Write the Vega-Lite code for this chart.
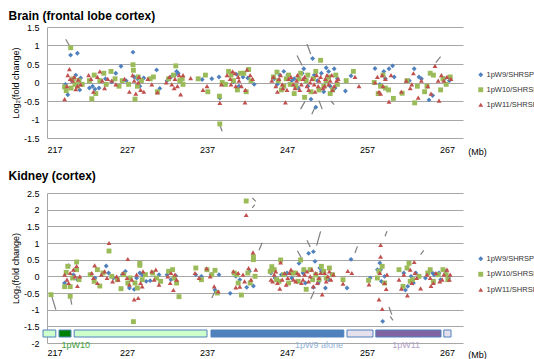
{
"$schema": "https://vega.github.io/schema/vega-lite/v6.json",
"padding": {"left": 8, "top": 10, "right": 0, "bottom": 0},
"background": "#ffffff",
"spacing": 14,
"datasets": {
"brain": [
{"s":"9","x":219.3,"y":-0.05},{"s":"9","x":219.6,"y":-0.33},{"s":"9","x":219.95,"y":0.74},{"s":"9","x":220.1,"y":0.05},{"s":"9","x":220.8,"y":0.79},{"s":"9","x":220.6,"y":0.2},{"s":"9","x":221.1,"y":-0.2},{"s":"9","x":221.2,"y":0.12},{"s":"9","x":222.3,"y":-0.15},{"s":"9","x":222.7,"y":-0.1},{"s":"9","x":223.0,"y":-0.18},{"s":"9","x":223.5,"y":-0.15},{"s":"9","x":224.3,"y":0.1},{"s":"9","x":225.1,"y":0.02},{"s":"9","x":225.6,"y":0.25},{"s":"9","x":226.25,"y":0.44},{"s":"9","x":226.9,"y":0.05},{"s":"9","x":227.75,"y":0.82},{"s":"9","x":227.9,"y":0.15},{"s":"9","x":228.3,"y":0.1},{"s":"9","x":228.6,"y":-0.1},{"s":"9","x":229.1,"y":0.12},{"s":"9","x":230.7,"y":0.34},{"s":"9","x":231.1,"y":-0.16},{"s":"9","x":232.0,"y":0.05},{"s":"9","x":232.5,"y":0.15},{"s":"9","x":233.0,"y":0.2},{"s":"9","x":233.2,"y":0.3},{"s":"9","x":233.4,"y":0.25},{"s":"9","x":233.7,"y":0.05},{"s":"9","x":236.4,"y":0.08},{"s":"9","x":237.6,"y":0.1},{"s":"9","x":238.5,"y":0.15},{"s":"9","x":238.6,"y":-0.42},{"s":"9","x":239.0,"y":-0.05},{"s":"9","x":240.3,"y":0.02},{"s":"9","x":240.7,"y":0.22},{"s":"9","x":241.0,"y":-0.1},{"s":"9","x":241.5,"y":0.15},{"s":"9","x":242.1,"y":0.12},{"s":"9","x":242.9,"y":-0.05},{"s":"9","x":245.4,"y":0.1},{"s":"9","x":245.8,"y":-0.05},{"s":"9","x":246.1,"y":0.2},{"s":"9","x":246.6,"y":0.3},{"s":"9","x":247.1,"y":0.2},{"s":"9","x":247.6,"y":0.05},{"s":"9","x":247.9,"y":0.1},{"s":"9","x":248.4,"y":-0.15},{"s":"9","x":248.9,"y":0.25},{"s":"9","x":249.1,"y":0.37},{"s":"9","x":249.6,"y":-0.1},{"s":"9","x":250.2,"y":0.65},{"s":"9","x":250.0,"y":-0.45},{"s":"9","x":250.4,"y":0.2},{"s":"9","x":250.6,"y":-0.67},{"s":"9","x":250.8,"y":0.05},{"s":"9","x":251.3,"y":0.25},{"s":"9","x":251.6,"y":-0.25},{"s":"9","x":251.9,"y":0.4},{"s":"9","x":252.2,"y":0.3},{"s":"9","x":252.4,"y":-0.1},{"s":"9","x":252.9,"y":0.37},{"s":"9","x":253.0,"y":-0.15},{"s":"9","x":253.3,"y":0.1},{"s":"9","x":254.3,"y":-0.23},{"s":"9","x":255.0,"y":0.18},{"s":"9","x":258.0,"y":0.38},{"s":"9","x":258.6,"y":-0.05},{"s":"9","x":259.1,"y":0.3},{"s":"9","x":259.3,"y":0.1},{"s":"9","x":259.75,"y":0.37},{"s":"9","x":260.2,"y":0.45},{"s":"9","x":259.6,"y":-0.2},{"s":"9","x":260.4,"y":0.15},{"s":"9","x":262.3,"y":0.05},{"s":"9","x":262.9,"y":0.37},{"s":"9","x":263.5,"y":0.15},{"s":"9","x":263.8,"y":0.1},{"s":"9","x":264.75,"y":-0.47},{"s":"9","x":265.2,"y":-0.35},{"s":"9","x":266.7,"y":0.1},{"s":"9","x":267.3,"y":0.05},
{"s":"10","x":219.2,"y":-0.12},{"s":"10","x":219.4,"y":-0.22},{"s":"10","x":219.96,"y":0.94},{"s":"10","x":220.0,"y":-0.15},{"s":"10","x":220.3,"y":0.1},{"s":"10","x":220.5,"y":-0.05},{"s":"10","x":220.8,"y":-0.1},{"s":"10","x":221.0,"y":0.05},{"s":"10","x":221.4,"y":-0.05},{"s":"10","x":222.3,"y":0.05},{"s":"10","x":222.6,"y":-0.44},{"s":"10","x":223.1,"y":-0.3},{"s":"10","x":222.9,"y":0.2},{"s":"10","x":223.6,"y":0.05},{"s":"10","x":224.1,"y":0.25},{"s":"10","x":224.4,"y":-0.05},{"s":"10","x":225.0,"y":0.3},{"s":"10","x":225.5,"y":0.1},{"s":"10","x":226.0,"y":-0.1},{"s":"10","x":226.4,"y":0.05},{"s":"10","x":227.2,"y":-0.05},{"s":"10","x":227.75,"y":0.48},{"s":"10","x":227.8,"y":0.33},{"s":"10","x":228.0,"y":-0.45},{"s":"10","x":228.3,"y":-0.1},{"s":"10","x":228.4,"y":0.15},{"s":"10","x":228.8,"y":0.05},{"s":"10","x":229.9,"y":0.1},{"s":"10","x":230.3,"y":0.15},{"s":"10","x":230.8,"y":-0.25},{"s":"10","x":232.2,"y":0.1},{"s":"10","x":232.8,"y":0.2},{"s":"10","x":233.1,"y":0.45},{"s":"10","x":233.6,"y":0.05},{"s":"10","x":233.9,"y":0.1},{"s":"10","x":234.0,"y":-0.05},{"s":"10","x":235.9,"y":0.1},{"s":"10","x":236.8,"y":0.2},{"s":"10","x":237.1,"y":-0.25},{"s":"10","x":238.6,"y":-1.12},{"s":"10","x":238.55,"y":-0.37},{"s":"10","x":238.9,"y":0.0},{"s":"10","x":239.3,"y":-0.05},{"s":"10","x":239.7,"y":0.3},{"s":"10","x":240.0,"y":0.2},{"s":"10","x":240.3,"y":0.05},{"s":"10","x":240.8,"y":-0.2},{"s":"10","x":241.2,"y":0.25},{"s":"10","x":241.6,"y":0.25},{"s":"10","x":241.9,"y":-0.25},{"s":"10","x":242.2,"y":0.35},{"s":"10","x":242.5,"y":0.05},{"s":"10","x":245.3,"y":0.15},{"s":"10","x":245.75,"y":0.28},{"s":"10","x":245.9,"y":0.05},{"s":"10","x":246.3,"y":-0.2},{"s":"10","x":246.6,"y":-0.1},{"s":"10","x":246.9,"y":0.1},{"s":"10","x":247.2,"y":0.2},{"s":"10","x":247.4,"y":-0.05},{"s":"10","x":247.9,"y":-0.3},{"s":"10","x":248.1,"y":-0.1},{"s":"10","x":248.5,"y":0.1},{"s":"10","x":248.7,"y":0.25},{"s":"10","x":249.2,"y":-0.4},{"s":"10","x":249.4,"y":0.05},{"s":"10","x":249.6,"y":0.2},{"s":"10","x":250.0,"y":-0.25},{"s":"10","x":250.3,"y":0.1},{"s":"10","x":250.6,"y":0.3},{"s":"10","x":251.0,"y":-0.2},{"s":"10","x":251.2,"y":0.6},{"s":"10","x":251.6,"y":-0.1},{"s":"10","x":251.9,"y":0.05},{"s":"10","x":252.2,"y":0.15},{"s":"10","x":252.4,"y":-0.3},{"s":"10","x":252.7,"y":-0.2},{"s":"10","x":253.1,"y":0.2},{"s":"10","x":253.3,"y":-0.05},{"s":"10","x":254.4,"y":0.05},{"s":"10","x":255.3,"y":0.3},{"s":"10","x":257.9,"y":0.0},{"s":"10","x":258.4,"y":-0.3},{"s":"10","x":258.7,"y":-0.1},{"s":"10","x":259.0,"y":0.2},{"s":"10","x":259.3,"y":-0.15},{"s":"10","x":259.7,"y":-0.2},{"s":"10","x":260.3,"y":-0.43},{"s":"10","x":261.4,"y":-0.29},{"s":"10","x":262.0,"y":0.05},{"s":"10","x":262.96,"y":-0.55},{"s":"10","x":263.3,"y":-0.1},{"s":"10","x":264.2,"y":-0.25},{"s":"10","x":264.5,"y":-0.1},{"s":"10","x":264.9,"y":0.25},{"s":"10","x":265.3,"y":0.2},{"s":"10","x":266.2,"y":-0.2},{"s":"10","x":266.5,"y":0.1},{"s":"10","x":266.9,"y":-0.05},{"s":"10","x":267.4,"y":0.15},
{"s":"11","x":219.2,"y":-0.45},{"s":"11","x":219.5,"y":-0.1},{"s":"11","x":219.6,"y":0.2},{"s":"11","x":219.8,"y":0.36},{"s":"11","x":219.9,"y":0.1},{"s":"11","x":220.2,"y":0.05},{"s":"11","x":220.4,"y":0.15},{"s":"11","x":220.6,"y":-0.18},{"s":"11","x":220.8,"y":-0.1},{"s":"11","x":220.9,"y":0.08},{"s":"11","x":221.2,"y":-0.05},{"s":"11","x":222.2,"y":0.2},{"s":"11","x":222.5,"y":0.1},{"s":"11","x":222.8,"y":-0.25},{"s":"11","x":223.3,"y":0.15},{"s":"11","x":223.6,"y":0.3},{"s":"11","x":223.9,"y":0.05},{"s":"11","x":224.2,"y":-0.15},{"s":"11","x":224.6,"y":0.1},{"s":"11","x":225.1,"y":0.05},{"s":"11","x":225.6,"y":-0.05},{"s":"11","x":226.7,"y":0.1},{"s":"11","x":227.3,"y":-0.25},{"s":"11","x":227.7,"y":0.2},{"s":"11","x":227.9,"y":0.05},{"s":"11","x":228.1,"y":-0.3},{"s":"11","x":228.4,"y":0.0},{"s":"11","x":228.5,"y":0.15},{"s":"11","x":228.7,"y":-0.2},{"s":"11","x":229.1,"y":-0.25},{"s":"11","x":229.6,"y":0.1},{"s":"11","x":230.1,"y":-0.05},{"s":"11","x":230.8,"y":-0.27},{"s":"11","x":231.9,"y":0.0},{"s":"11","x":232.3,"y":0.15},{"s":"11","x":232.6,"y":-0.05},{"s":"11","x":232.9,"y":-0.15},{"s":"11","x":233.0,"y":0.1},{"s":"11","x":233.3,"y":-0.1},{"s":"11","x":233.5,"y":0.2},{"s":"11","x":233.7,"y":-0.32},{"s":"11","x":234.0,"y":0.2},{"s":"11","x":234.96,"y":0.12},{"s":"11","x":236.5,"y":-0.2},{"s":"11","x":237.0,"y":-0.1},{"s":"11","x":238.6,"y":-0.55},{"s":"11","x":238.8,"y":-0.05},{"s":"11","x":239.5,"y":0.2},{"s":"11","x":239.9,"y":0.1},{"s":"11","x":240.0,"y":-0.05},{"s":"11","x":240.2,"y":0.3},{"s":"11","x":240.5,"y":0.25},{"s":"11","x":240.6,"y":-0.1},{"s":"11","x":240.9,"y":0.15},{"s":"11","x":241.0,"y":0.05},{"s":"11","x":241.3,"y":-0.1},{"s":"11","x":241.75,"y":-0.54},{"s":"11","x":241.8,"y":-0.2},{"s":"11","x":242.0,"y":0.35},{"s":"11","x":242.4,"y":0.2},{"s":"11","x":242.7,"y":0.1},{"s":"11","x":245.1,"y":0.05},{"s":"11","x":245.3,"y":0.15},{"s":"11","x":245.6,"y":-0.1},{"s":"11","x":245.8,"y":-0.25},{"s":"11","x":246.0,"y":0.1},{"s":"11","x":246.2,"y":0.2},{"s":"11","x":246.4,"y":-0.05},{"s":"11","x":246.5,"y":-0.15},{"s":"11","x":246.8,"y":-0.54},{"s":"11","x":247.0,"y":-0.2},{"s":"11","x":247.2,"y":0.1},{"s":"11","x":247.5,"y":0.15},{"s":"11","x":247.8,"y":-0.05},{"s":"11","x":248.0,"y":-0.15},{"s":"11","x":248.2,"y":0.05},{"s":"11","x":248.3,"y":0.2},{"s":"11","x":248.6,"y":-0.2},{"s":"11","x":248.8,"y":-0.05},{"s":"11","x":249.0,"y":0.1},{"s":"11","x":249.2,"y":0.15},{"s":"11","x":249.5,"y":-0.1},{"s":"11","x":249.7,"y":-0.2},{"s":"11","x":249.9,"y":0.0},{"s":"11","x":250.1,"y":0.1},{"s":"11","x":250.4,"y":-0.05},{"s":"11","x":250.5,"y":-0.25},{"s":"11","x":250.7,"y":0.2},{"s":"11","x":250.9,"y":-0.1},{"s":"11","x":251.0,"y":0.05},{"s":"11","x":251.2,"y":0.15},{"s":"11","x":251.5,"y":-0.15},{"s":"11","x":251.7,"y":-0.1},{"s":"11","x":251.8,"y":0.1},{"s":"11","x":252.0,"y":0.2},{"s":"11","x":252.2,"y":-0.05},{"s":"11","x":252.4,"y":0.05},{"s":"11","x":252.6,"y":0.2},{"s":"11","x":252.7,"y":-0.2},{"s":"11","x":252.9,"y":-0.1},{"s":"11","x":253.2,"y":0.05},{"s":"11","x":253.4,"y":0.1},{"s":"11","x":255.5,"y":0.15},{"s":"11","x":256.0,"y":-0.1},{"s":"11","x":258.0,"y":0.0},{"s":"11","x":258.3,"y":0.15},{"s":"11","x":258.5,"y":-0.25},{"s":"11","x":258.7,"y":-0.3},{"s":"11","x":258.9,"y":0.2},{"s":"11","x":259.0,"y":-0.1},{"s":"11","x":259.3,"y":0.1},{"s":"11","x":259.75,"y":-0.52},{"s":"11","x":260.0,"y":0.2},{"s":"11","x":261.3,"y":-0.25},{"s":"11","x":261.9,"y":0.05},{"s":"11","x":262.4,"y":-0.15},{"s":"11","x":262.6,"y":-0.05},{"s":"11","x":262.8,"y":0.25},{"s":"11","x":263.4,"y":-0.41},{"s":"11","x":263.8,"y":0.05},{"s":"11","x":264.6,"y":-0.1},{"s":"11","x":265.0,"y":-0.3},{"s":"11","x":265.5,"y":0.45},{"s":"11","x":265.9,"y":0.05},{"s":"11","x":266.0,"y":-0.49},{"s":"11","x":266.3,"y":0.2},{"s":"11","x":266.6,"y":0.05},{"s":"11","x":267.0,"y":0.15},{"s":"11","x":267.5,"y":0.1}
],
"kidney": [
{"s":"9","x":219.2,"y":-0.2},{"s":"9","x":219.7,"y":0.32},{"s":"9","x":220.3,"y":0.05},{"s":"9","x":220.8,"y":-0.1},{"s":"9","x":222.5,"y":0.05},{"s":"9","x":223.0,"y":-0.05},{"s":"9","x":224.4,"y":0.31},{"s":"9","x":224.7,"y":0.1},{"s":"9","x":225.3,"y":-0.05},{"s":"9","x":226.4,"y":0.05},{"s":"9","x":226.8,"y":0.15},{"s":"9","x":227.3,"y":-0.35},{"s":"9","x":227.9,"y":-0.39},{"s":"9","x":228.2,"y":-0.05},{"s":"9","x":228.6,"y":0.1},{"s":"9","x":228.9,"y":0.05},{"s":"9","x":229.4,"y":-0.15},{"s":"9","x":229.9,"y":-0.13},{"s":"9","x":231.0,"y":0.05},{"s":"9","x":232.0,"y":0.05},{"s":"9","x":232.5,"y":-0.1},{"s":"9","x":233.1,"y":0.02},{"s":"9","x":235.6,"y":0.05},{"s":"9","x":236.3,"y":0.0},{"s":"9","x":237.5,"y":0.05},{"s":"9","x":238.0,"y":-0.41},{"s":"9","x":238.5,"y":0.05},{"s":"9","x":239.9,"y":-0.51},{"s":"9","x":240.6,"y":0.0},{"s":"9","x":241.1,"y":-0.1},{"s":"9","x":241.96,"y":-0.33},{"s":"9","x":242.3,"y":0.15},{"s":"9","x":242.8,"y":-0.29},{"s":"9","x":245.0,"y":0.1},{"s":"9","x":245.5,"y":-0.05},{"s":"9","x":246.3,"y":0.05},{"s":"9","x":246.8,"y":0.05},{"s":"9","x":247.0,"y":0.1},{"s":"9","x":247.6,"y":-0.05},{"s":"9","x":248.5,"y":0.39},{"s":"9","x":249.0,"y":0.1},{"s":"9","x":249.3,"y":-0.2},{"s":"9","x":249.7,"y":0.69},{"s":"9","x":250.3,"y":0.74},{"s":"9","x":250.5,"y":0.45},{"s":"9","x":250.3,"y":-0.33},{"s":"9","x":250.9,"y":-0.2},{"s":"9","x":251.1,"y":0.25},{"s":"9","x":251.3,"y":0.15},{"s":"9","x":251.8,"y":-0.35},{"s":"9","x":252.2,"y":-0.1},{"s":"9","x":252.6,"y":0.05},{"s":"9","x":254.5,"y":-0.35},{"s":"9","x":255.0,"y":0.51},{"s":"9","x":257.4,"y":-0.05},{"s":"9","x":258.3,"y":0.2},{"s":"9","x":258.6,"y":0.4},{"s":"9","x":258.7,"y":0.2},{"s":"9","x":258.8,"y":-0.15},{"s":"9","x":258.96,"y":-1.35},{"s":"9","x":259.2,"y":0.0},{"s":"9","x":261.6,"y":0.1},{"s":"9","x":261.8,"y":-0.41},{"s":"9","x":262.1,"y":-0.3},{"s":"9","x":262.5,"y":0.0},{"s":"9","x":262.8,"y":-0.2},{"s":"9","x":263.1,"y":0.1},{"s":"9","x":264.3,"y":-0.05},{"s":"9","x":265.2,"y":0.1},{"s":"9","x":265.4,"y":0.05},{"s":"9","x":266.0,"y":0.1},{"s":"9","x":266.2,"y":-0.1},{"s":"9","x":266.8,"y":0.15},{"s":"9","x":267.2,"y":-0.05},
{"s":"10","x":217.5,"y":-0.55},{"s":"10","x":219.2,"y":-0.31},{"s":"10","x":219.4,"y":0.12},{"s":"10","x":219.6,"y":0.3},{"s":"10","x":219.9,"y":-0.31},{"s":"10","x":219.9,"y":-0.6},{"s":"10","x":220.2,"y":-0.05},{"s":"10","x":220.7,"y":0.43},{"s":"10","x":220.7,"y":0.2},{"s":"10","x":221.0,"y":-0.1},{"s":"10","x":222.4,"y":0.05},{"s":"10","x":222.9,"y":-0.15},{"s":"10","x":223.3,"y":0.2},{"s":"10","x":223.6,"y":-0.29},{"s":"10","x":224.0,"y":0.1},{"s":"10","x":224.75,"y":0.76},{"s":"10","x":225.1,"y":0.0},{"s":"10","x":225.8,"y":-0.1},{"s":"10","x":226.25,"y":-0.37},{"s":"10","x":226.6,"y":0.05},{"s":"10","x":227.1,"y":-0.2},{"s":"10","x":227.4,"y":-0.05},{"s":"10","x":227.8,"y":-1.36},{"s":"10","x":228.0,"y":-0.2},{"s":"10","x":228.3,"y":-0.35},{"s":"10","x":228.6,"y":0.39},{"s":"10","x":228.6,"y":0.33},{"s":"10","x":228.9,"y":-0.1},{"s":"10","x":229.3,"y":0.05},{"s":"10","x":230.2,"y":0.1},{"s":"10","x":230.7,"y":-0.05},{"s":"10","x":231.2,"y":-0.15},{"s":"10","x":232.2,"y":0.15},{"s":"10","x":232.7,"y":0.2},{"s":"10","x":232.9,"y":-0.05},{"s":"10","x":233.2,"y":-0.2},{"s":"10","x":233.5,"y":-0.61},{"s":"10","x":235.6,"y":0.25},{"s":"10","x":236.3,"y":-0.1},{"s":"10","x":237.0,"y":0.2},{"s":"10","x":237.6,"y":0.05},{"s":"10","x":238.0,"y":0.18},{"s":"10","x":238.3,"y":-0.5},{"s":"10","x":240.4,"y":0.1},{"s":"10","x":240.7,"y":0.05},{"s":"10","x":240.9,"y":-0.2},{"s":"10","x":241.3,"y":-0.56},{"s":"10","x":241.9,"y":2.26},{"s":"10","x":242.1,"y":0.1},{"s":"10","x":242.4,"y":-0.2},{"s":"10","x":242.8,"y":0.59},{"s":"10","x":242.8,"y":0.5},{"s":"10","x":243.0,"y":0.0},{"s":"10","x":244.9,"y":0.15},{"s":"10","x":245.1,"y":0.29},{"s":"10","x":245.4,"y":0.2},{"s":"10","x":245.7,"y":-0.1},{"s":"10","x":246.0,"y":-0.15},{"s":"10","x":246.2,"y":0.49},{"s":"10","x":246.6,"y":0.05},{"s":"10","x":247.2,"y":-0.2},{"s":"10","x":247.6,"y":0.1},{"s":"10","x":248.0,"y":0.1},{"s":"10","x":248.4,"y":-0.15},{"s":"10","x":248.7,"y":0.49},{"s":"10","x":249.1,"y":0.2},{"s":"10","x":249.4,"y":-0.39},{"s":"10","x":249.9,"y":0.2},{"s":"10","x":250.2,"y":-0.1},{"s":"10","x":250.6,"y":0.05},{"s":"10","x":251.0,"y":-0.1},{"s":"10","x":251.3,"y":0.3},{"s":"10","x":251.6,"y":0.15},{"s":"10","x":251.9,"y":-0.05},{"s":"10","x":252.3,"y":0.25},{"s":"10","x":252.7,"y":0.05},{"s":"10","x":254.0,"y":-0.1},{"s":"10","x":257.2,"y":-0.12},{"s":"10","x":258.3,"y":-0.05},{"s":"10","x":258.5,"y":0.15},{"s":"10","x":258.9,"y":0.3},{"s":"10","x":259.2,"y":-0.2},{"s":"10","x":261.0,"y":0.2},{"s":"10","x":261.5,"y":-0.3},{"s":"10","x":262.0,"y":0.25},{"s":"10","x":262.25,"y":0.39},{"s":"10","x":262.4,"y":-0.15},{"s":"10","x":262.7,"y":-0.1},{"s":"10","x":263.5,"y":0.0},{"s":"10","x":264.6,"y":0.1},{"s":"10","x":264.9,"y":0.2},{"s":"10","x":265.3,"y":-0.15},{"s":"10","x":265.9,"y":0.05},{"s":"10","x":266.5,"y":0.2},{"s":"10","x":266.9,"y":0.05},{"s":"10","x":267.1,"y":-0.1},
{"s":"11","x":219.2,"y":0.05},{"s":"11","x":219.5,"y":-0.1},{"s":"11","x":219.7,"y":-0.2},{"s":"11","x":219.9,"y":0.1},{"s":"11","x":220.3,"y":0.2},{"s":"11","x":220.5,"y":0.0},{"s":"11","x":220.7,"y":0.31},{"s":"11","x":220.8,"y":-0.29},{"s":"11","x":221.1,"y":0.0},{"s":"11","x":222.6,"y":0.1},{"s":"11","x":222.8,"y":-0.05},{"s":"11","x":222.96,"y":0.33},{"s":"11","x":223.3,"y":-0.2},{"s":"11","x":223.8,"y":0.05},{"s":"11","x":224.2,"y":0.15},{"s":"11","x":224.75,"y":1.0},{"s":"11","x":224.5,"y":-0.05},{"s":"11","x":225.2,"y":-0.15},{"s":"11","x":225.7,"y":0.0},{"s":"11","x":225.9,"y":-0.1},{"s":"11","x":226.5,"y":0.1},{"s":"11","x":227.0,"y":-0.05},{"s":"11","x":227.1,"y":0.52},{"s":"11","x":227.3,"y":-0.25},{"s":"11","x":227.6,"y":-0.1},{"s":"11","x":227.9,"y":-0.69},{"s":"11","x":228.4,"y":-0.65},{"s":"11","x":228.2,"y":0.05},{"s":"11","x":228.7,"y":-0.2},{"s":"11","x":228.9,"y":-0.3},{"s":"11","x":229.0,"y":0.15},{"s":"11","x":230.1,"y":0.15},{"s":"11","x":230.4,"y":-0.1},{"s":"11","x":230.6,"y":0.2},{"s":"11","x":231.0,"y":-0.25},{"s":"11","x":232.1,"y":0.0},{"s":"11","x":232.4,"y":-0.2},{"s":"11","x":232.5,"y":0.1},{"s":"11","x":232.8,"y":-0.41},{"s":"11","x":233.0,"y":0.05},{"s":"11","x":233.2,"y":-0.1},{"s":"11","x":235.5,"y":0.1},{"s":"11","x":236.0,"y":-0.05},{"s":"11","x":236.96,"y":0.24},{"s":"11","x":237.4,"y":0.0},{"s":"11","x":237.9,"y":-0.3},{"s":"11","x":238.4,"y":-0.45},{"s":"11","x":240.3,"y":0.15},{"s":"11","x":240.6,"y":-0.33},{"s":"11","x":240.9,"y":0.1},{"s":"11","x":241.1,"y":-0.31},{"s":"11","x":241.5,"y":0.05},{"s":"11","x":241.7,"y":-0.15},{"s":"11","x":241.9,"y":1.84},{"s":"11","x":242.2,"y":0.25},{"s":"11","x":242.5,"y":-0.1},{"s":"11","x":242.75,"y":0.72},{"s":"11","x":243.1,"y":0.2},{"s":"11","x":245.0,"y":-0.1},{"s":"11","x":245.2,"y":-0.15},{"s":"11","x":245.4,"y":0.05},{"s":"11","x":245.6,"y":0.15},{"s":"11","x":245.8,"y":-0.2},{"s":"11","x":246.1,"y":-0.37},{"s":"11","x":246.2,"y":0.42},{"s":"11","x":246.4,"y":-0.1},{"s":"11","x":246.7,"y":0.1},{"s":"11","x":246.9,"y":-0.25},{"s":"11","x":247.1,"y":-0.05},{"s":"11","x":247.3,"y":0.1},{"s":"11","x":247.5,"y":0.2},{"s":"11","x":247.8,"y":-0.1},{"s":"11","x":248.1,"y":-0.15},{"s":"11","x":248.3,"y":0.1},{"s":"11","x":248.5,"y":0.05},{"s":"11","x":248.8,"y":-0.2},{"s":"11","x":249.0,"y":-0.1},{"s":"11","x":249.2,"y":0.05},{"s":"11","x":249.5,"y":0.15},{"s":"11","x":249.7,"y":-0.15},{"s":"11","x":249.9,"y":0.0},{"s":"11","x":250.1,"y":0.2},{"s":"11","x":250.3,"y":-0.3},{"s":"11","x":250.6,"y":0.1},{"s":"11","x":250.8,"y":-0.2},{"s":"11","x":251.0,"y":-0.05},{"s":"11","x":251.2,"y":0.1},{"s":"11","x":251.4,"y":-0.54},{"s":"11","x":251.7,"y":0.1},{"s":"11","x":251.9,"y":-0.15},{"s":"11","x":252.1,"y":0.0},{"s":"11","x":252.3,"y":0.15},{"s":"11","x":252.5,"y":-0.1},{"s":"11","x":252.8,"y":0.05},{"s":"11","x":254.0,"y":-0.22},{"s":"11","x":254.6,"y":0.16},{"s":"11","x":255.1,"y":0.1},{"s":"11","x":257.25,"y":-0.24},{"s":"11","x":258.5,"y":-0.69},{"s":"11","x":258.6,"y":0.1},{"s":"11","x":258.7,"y":0.94},{"s":"11","x":258.7,"y":0.59},{"s":"11","x":258.9,"y":-0.98},{"s":"11","x":259.2,"y":-0.2},{"s":"11","x":259.4,"y":-0.38},{"s":"11","x":259.5,"y":0.05},{"s":"11","x":261.0,"y":-0.1},{"s":"11","x":261.3,"y":-0.37},{"s":"11","x":261.6,"y":0.05},{"s":"11","x":262.05,"y":-0.57},{"s":"11","x":262.4,"y":0.2},{"s":"11","x":262.6,"y":-0.2},{"s":"11","x":262.9,"y":0.43},{"s":"11","x":263.0,"y":0.1},{"s":"11","x":263.2,"y":-0.05},{"s":"11","x":263.7,"y":-0.36},{"s":"11","x":264.5,"y":0.05},{"s":"11","x":264.9,"y":-0.05},{"s":"11","x":265.0,"y":-0.29},{"s":"11","x":265.3,"y":-0.2},{"s":"11","x":265.6,"y":0.1},{"s":"11","x":266.1,"y":-0.15},{"s":"11","x":266.4,"y":-0.1},{"s":"11","x":266.6,"y":0.05},{"s":"11","x":267.0,"y":0.2},{"s":"11","x":267.3,"y":-0.1},{"s":"11","x":267.4,"y":0.05}
],
"arrB": [
{"x":219.34,"y":1.17,"x2":219.8,"y2":1.0},{"x":238.9,"y":-1.32,"x2":238.65,"y2":-1.18},{"x":249.5,"y":1.04,"x2":249.96,"y2":0.77},{"x":248.25,"y":0.73,"x2":248.9,"y2":0.46},{"x":248.7,"y":-0.72,"x2":249.25,"y2":-0.51},{"x":250.1,"y":-0.86,"x2":250.6,"y2":-0.62},{"x":251.4,"y":-0.72,"x2":251.0,"y2":-0.49},{"x":252.5,"y":-0.5,"x2":252.9,"y2":-0.6},{"x":266.2,"y":0.7,"x2":265.6,"y2":0.54}
],
"arrK": [
{"x":218.1,"y":-1.0,"x2":217.6,"y2":-0.6},{"x":220.1,"y":-0.85,"x2":219.95,"y2":-0.67},{"x":237.6,"y":-0.65,"x2":238.1,"y2":-0.4},{"x":242.66,"y":2.35,"x2":243.1,"y2":2.25},{"x":242.96,"y":2.15,"x2":242.66,"y2":2.05},{"x":243.9,"y":1.01,"x2":243.5,"y2":0.78},{"x":248.3,"y":0.77,"x2":248.8,"y2":0.55},{"x":249.5,"y":1.08,"x2":249.9,"y2":0.88},{"x":251.2,"y":1.35,"x2":250.7,"y2":0.92},{"x":249.96,"y":-0.68,"x2":250.4,"y2":-0.45},{"x":255.8,"y":0.9,"x2":255.5,"y2":0.7},{"x":259.5,"y":1.35,"x2":259.25,"y2":1.2},{"x":264.1,"y":0.78,"x2":263.7,"y2":0.65},{"x":259.75,"y":-0.92,"x2":260.1,"y2":-1.15},{"x":259.9,"y":-1.2,"x2":260.25,"y2":-1.32}
],
"bars": [
{"a":216.5,"b":218.1,"k":"lg"},{"a":218.5,"b":220.0,"k":"dg"},{"a":220.4,"b":237.0,"k":"lg"},{"a":237.5,"b":254.1,"k":"bl"},{"a":254.5,"b":257.75,"k":"lv"},{"a":258.1,"b":266.25,"k":"pu"},{"a":266.6,"b":267.5,"k":"lv"}
],
"labs": [
{"t":"1pW10","x":220.6},{"t":"1pW9 alone","x":251.0},{"t":"1pW11","x":261.9}
]
},
"vconcat": [
{
"width": 416, "height": 111,
"title": {"text": "Brain (frontal lobe cortex)", "anchor": "start", "frame": "bounds", "dx": -3, "fontSize": 12, "fontWeight": "bold", "color": "#000000", "offset": 0},
"layer": [
{"mark": {"type": "rule", "color": "#000000", "strokeWidth": 1.2}, "encoding": {"y": {"datum": 0, "type": "quantitative"}}},
{"data": {"name": "arrB"}, "mark": {"type": "rule", "color": "#7F7F7F", "strokeWidth": 1.2}, "encoding": {"x": {"field": "x", "type": "quantitative"}, "x2": {"field": "x2"}, "y": {"field": "y", "type": "quantitative"}, "y2": {"field": "y2"}}},
{"data": {"name": "brain"}, "mark": {"type": "point", "filled": true, "opacity": 1, "size": 24},
"encoding": {
"x": {"field": "x", "type": "quantitative", "scale": {"domain": [217, 269], "nice": false, "zero": false}, "axis": {"values": [217, 227, 237, 247, 257, 267], "title": "(Mb)", "titleX": 430, "titleY": 13}},
"y": {"field": "y", "type": "quantitative", "scale": {"domain": [-1.5, 1.5], "nice": false, "zero": false}, "axis": {"tickCount": 7, "format": "~g", "title": "Log₂(fold change)"}},
"color": {"field": "s", "type": "nominal", "scale": {"domain": ["9", "10", "11"], "range": ["#4F81BD", "#9BBB59", "#C0504D"]}, "legend": {"orient": "none", "legendX": 430, "legendY": 44, "rowPadding": 6, "labelExpr": "'1pW' + datum.label + '/SHRSP'"}},
"shape": {"field": "s", "type": "nominal", "scale": {"domain": ["9", "10", "11"], "range": ["diamond", "square", "triangle-up"]}, "legend": {"orient": "none", "legendX": 430, "legendY": 44, "rowPadding": 6, "labelExpr": "'1pW' + datum.label + '/SHRSP'"}}
}}
]
},
{
"width": 416, "height": 150,
"title": {"text": "Kidney (cortex)", "anchor": "start", "frame": "bounds", "dx": -3, "fontSize": 12, "fontWeight": "bold", "color": "#000000", "offset": 6},
"layer": [
{"mark": {"type": "rule", "color": "#000000", "strokeWidth": 1.2}, "encoding": {"y": {"datum": 0, "type": "quantitative"}}},
{"data": {"name": "arrK"}, "mark": {"type": "rule", "color": "#7F7F7F", "strokeWidth": 1.2}, "encoding": {"x": {"field": "x", "type": "quantitative"}, "x2": {"field": "x2"}, "y": {"field": "y", "type": "quantitative"}, "y2": {"field": "y2"}}},
{"data": {"name": "bars"}, "mark": {"type": "rect", "stroke": "#4F81BD", "strokeWidth": 1}, "encoding": {"x": {"field": "a", "type": "quantitative"}, "x2": {"field": "b"}, "y": {"datum": -1.61, "type": "quantitative"}, "y2": {"datum": -1.82}, "fill": {"field": "k", "type": "nominal", "scale": {"domain": ["lg", "dg", "bl", "lv", "pu"], "range": ["#CCFFCC", "#008000", "#4F81BD", "#E6E0EC", "#8064A2"]}, "legend": null}}},
{"data": {"name": "labs"}, "transform": [{"filter": "datum.t == '1pW10'"}], "mark": {"type": "text", "fontSize": 9, "color": "#3DA03D", "baseline": "middle"}, "encoding": {"x": {"field": "x", "type": "quantitative"}, "y": {"datum": -2.07, "type": "quantitative"}, "text": {"field": "t"}}},
{"data": {"name": "labs"}, "transform": [{"filter": "datum.t == '1pW9 alone'"}], "mark": {"type": "text", "fontSize": 9, "color": "#95B3D7", "baseline": "middle"}, "encoding": {"x": {"field": "x", "type": "quantitative"}, "y": {"datum": -2.07, "type": "quantitative"}, "text": {"field": "t"}}},
{"data": {"name": "labs"}, "transform": [{"filter": "datum.t == '1pW11'"}], "mark": {"type": "text", "fontSize": 9, "color": "#B3A2C7", "baseline": "middle"}, "encoding": {"x": {"field": "x", "type": "quantitative"}, "y": {"datum": -2.07, "type": "quantitative"}, "text": {"field": "t"}}},
{"data": {"name": "kidney"}, "mark": {"type": "point", "filled": true, "opacity": 1, "size": 24},
"encoding": {
"x": {"field": "x", "type": "quantitative", "scale": {"domain": [217, 269], "nice": false, "zero": false}, "axis": {"values": [217, 227, 237, 247, 257, 267], "labelPadding": 5, "title": "(Mb)", "titleX": 430, "titleY": 11}},
"y": {"field": "y", "type": "quantitative", "scale": {"domain": [-2, 2.5], "nice": false, "zero": false}, "axis": {"values": [-2, -1.5, -1, -0.5, 0, 0.5, 1, 1.5, 2, 2.5], "tickCount": 10, "format": "~g", "title": "Log₂(fold change)"}},
"color": {"field": "s", "type": "nominal", "scale": {"domain": ["9", "10", "11"], "range": ["#4F81BD", "#9BBB59", "#C0504D"]}, "legend": {"orient": "none", "legendX": 430, "legendY": 62, "rowPadding": 6.5, "labelExpr": "'1pW' + datum.label + '/SHRSP'"}},
"shape": {"field": "s", "type": "nominal", "scale": {"domain": ["9", "10", "11"], "range": ["diamond", "square", "triangle-up"]}, "legend": {"orient": "none", "legendX": 430, "legendY": 62, "rowPadding": 6.5, "labelExpr": "'1pW' + datum.label + '/SHRSP'"}}
}}
]
}
],
"resolve": {"scale": {"color": "independent", "shape": "independent"}, "legend": {"color": "independent", "shape": "independent"}},
"config": {
"font": "Liberation Sans",
"locale": {"number": {"decimal": ".", "thousands": ",", "grouping": [3], "currency": ["$", ""], "minus": "-"}},
"view": {"stroke": null},
"axisY": {"grid": true, "gridColor": "#A6A6A6", "gridWidth": 1, "domain": true, "domainColor": "#A6A6A6", "ticks": false, "labelFontSize": 9, "labelColor": "#000000", "labelPadding": 8, "labelOverlap": false, "titleFontSize": 9, "titleFontWeight": "normal", "titleColor": "#000000", "titlePadding": 3},
"axisX": {"grid": false, "domain": false, "ticks": false, "labelFontSize": 9, "labelColor": "#000000", "labelPadding": 7, "labelOverlap": false, "titleFontSize": 9, "titleFontWeight": "normal", "titleColor": "#000000", "titleBaseline": "middle"},
"legend": {"title": null, "labelFontSize": 7.5, "labelColor": "#333333", "symbolSize": 24, "labelOffset": 2}
}
}
